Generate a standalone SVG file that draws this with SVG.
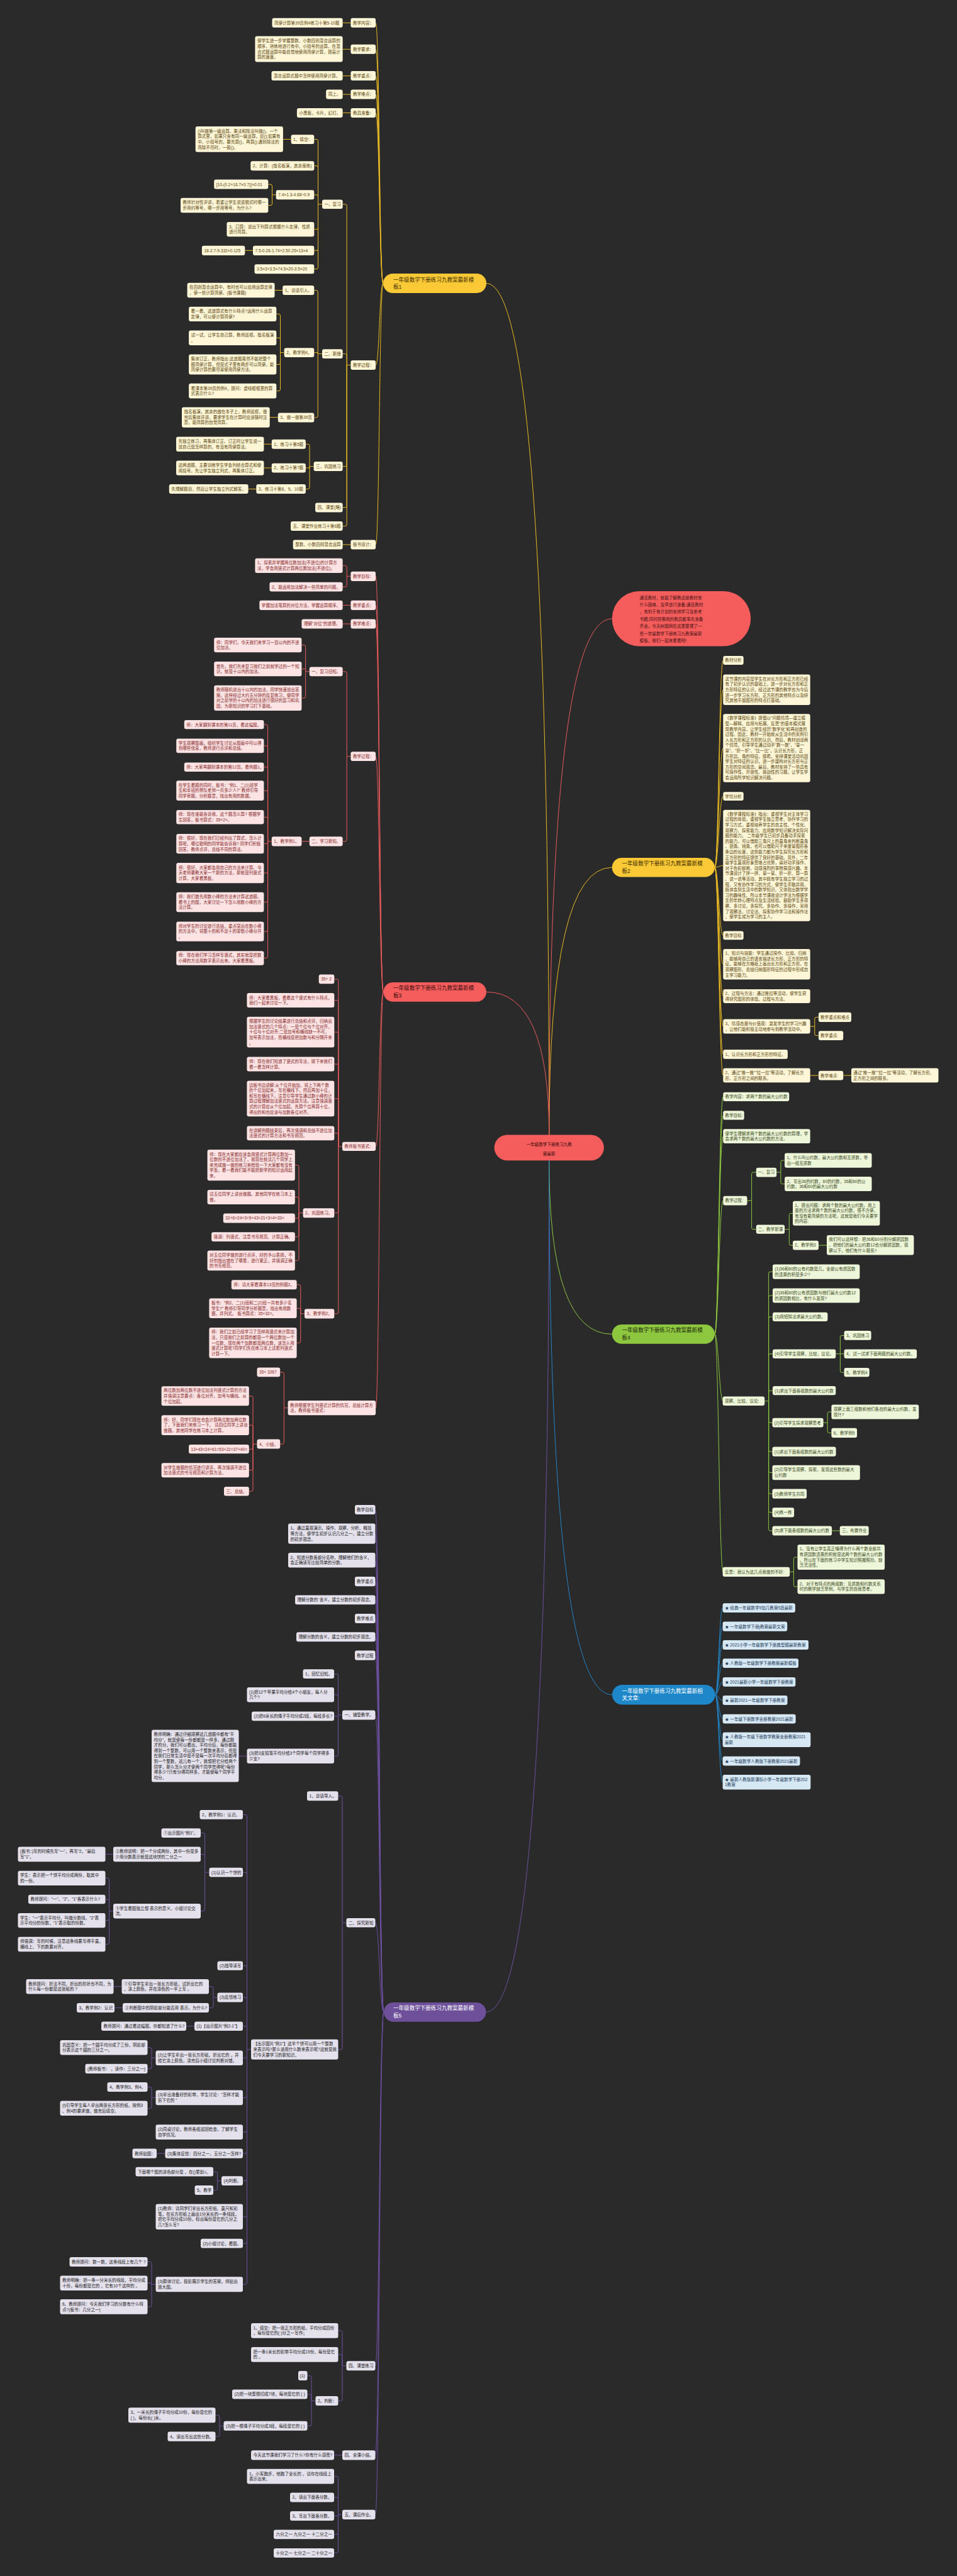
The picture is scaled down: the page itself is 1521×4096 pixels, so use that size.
<svg xmlns="http://www.w3.org/2000/svg" width="1521" height="4096" viewBox="0 0 1521 4096">
<style>
text{font-family:"Liberation Sans","Noto Sans CJK SC",sans-serif;font-size:6.6px}
.ry{fill:#fef6d6;rx:3px}.rr{fill:#fde3e3;rx:3px}.rp{fill:#e4e0ec;rx:3px}.rg{fill:#eef6da;rx:3px}.rb{fill:#d7e8f5;rx:3px}
.ty{fill:#5a4510}.tr{fill:#86282a}.tp{fill:#222}.tg{fill:#3b4a1c}.tb{fill:#1c3a58}
.big{font-size:8.55px}
.c{fill:none;stroke-width:1}
.cy{stroke:#e8b923}.cr{stroke:#e85a5a}.cp{stroke:#6c4f9e}.cg{stroke:#8cc63f}.cb{stroke:#2186c8}
</style>
<rect width="1521" height="4096" fill="#2a2a2a"/>
<g id="connectors">
<path class="c cy" d="M872.7 1804.5Q872.7 450.5 773 450.5M872.7 1804.5Q872.7 1379.2 972.7 1379.2"/>
<path class="c cr" d="M872.7 1804.5Q872.7 1577.3 773 1577.3M872.7 1804.5Q872.7 983.8 972.7 983.8"/>
<path class="c cp" d="M872.7 1845.3Q872.7 3199.3 772.5 3199.3"/>
<path class="c cg" d="M872.7 1845.3Q872.7 2121.4 972.7 2121.4"/>
<path class="c cb" d="M872.7 1845.3Q872.7 2694.8 973 2694.8"/>
<path class="c cy" d="M597.1 36.3C603 36.3 603 450.5 609 450.5M597.1 78.3C603 78.3 603 450.5 609 450.5M597.1 120.6C603 120.6 603 450.5 609 450.5M597.1 150C603 150 603 450.5 609 450.5M597.1 179.4C603 179.4 603 450.5 609 450.5M597.1 580.4C603 580.4 603 450.5 609 450.5M597.1 866C603 866 603 450.5 609 450.5
M544.6 36.3H557.4M544.6 78.3H557.4M544.6 120.6H557.4M544.6 150H557.4M544.6 179.4H557.4M544.6 866H557.4
M551.2 580.4H557.4M544.6 324.8H548.7Q551.2 324.8 551.2 327.3V580.4M544.6 562.6H548.7Q551.2 562.6 551.2 565.1V580.4M544.6 741.6H548.7Q551.2 741.6 551.2 739.1V580.4M544.6 807H548.7Q551.2 807 551.2 804.5V580.4M544.6 836.6H548.7Q551.2 836.6 551.2 834.1V580.4
M505.5 324.8H512M499.3 221.5H503Q505.5 221.5 505.5 224V324.8M499.3 263.7H503Q505.5 263.7 505.5 266.2V324.8M499.3 309.8H503Q505.5 309.8 505.5 312.3V324.8M499.3 364.6H503Q505.5 364.6 505.5 362.1V324.8M499.3 398.3H503Q505.5 398.3 505.5 395.8V324.8M499.3 427.8H503Q505.5 427.8 505.5 425.3V324.8
M449.9 221.5H462.6M432.5 309.8H438.7M426.3 293.1H430Q432.5 293.1 432.5 295.6V309.8M426.3 326.5H430Q432.5 326.5 432.5 324V309.8M389.3 398.3H402
M505.2 562.6H512M499.3 461.5H502.7Q505.2 461.5 505.2 464V562.6M499.3 560.6H505.2V562.6M499.3 663.9H502.7Q505.2 663.9 505.2 661.4V562.6M436.5 461.5H449.2
M445.5 560.6H451.7M439.3 499.3H443Q445.5 499.3 445.5 501.8V560.6M439.3 537.2H443Q445.5 537.2 445.5 539.7V560.6M439.3 579.5H443Q445.5 579.5 445.5 577V560.6M439.3 621.6H443Q445.5 621.6 445.5 619.1V560.6M428.7 663.6H441.8
M492 741.6H498.6M485.9 706.2H489.5Q492 706.2 492 708.7V741.6M485.9 744H492V741.6M485.9 777.6H489.5Q492 777.6 492 775.1V741.6M419.4 706.2H431.8M419.4 744H431.8M394.6 777.6H407.3"/>
<path class="c cr" d="M597.1 916.3C603 916.3 603 1577.3 609.3 1577.3M597.1 962.4C603 962.4 603 1577.3 609.3 1577.3M597.1 992C603 992 603 1577.3 609.3 1577.3M597.1 1202.7C603 1202.7 603 1577.3 609.3 1577.3M597.1 1822.9C603 1822.9 603 1577.3 609.3 1577.3M597.1 2238.7C603 2238.7 603 1577.3 609.3 1577.3
M551.2 916.3H557.4M544.6 899.4H548.7Q551.2 899.4 551.2 901.9V916.3M544.6 933.2H548.7Q551.2 933.2 551.2 930.7V916.3M544.6 962.4H557.4M544.6 992H557.4
M551.2 1202.7H557.4M544.6 1067.8H548.7Q551.2 1067.8 551.2 1070.3V1202.7M544.6 1337.8H548.7Q551.2 1337.8 551.2 1335.3V1202.7
M485.6 1067.8H491.8M479.4 1025.6H483.1Q485.6 1025.6 485.6 1028.1V1067.8M479.4 1063.6H485.6V1067.8M479.4 1109.9H483.1Q485.6 1109.9 485.6 1107.4V1067.8M479.4 1337.8H491.8
M425.6 1337.8H431.8M419.4 1152.1H423.1Q425.6 1152.1 425.6 1154.6V1337.8M419.4 1185.8H423.1Q425.6 1185.8 425.6 1188.3V1337.8M419.4 1219.6H423.1Q425.6 1219.6 425.6 1222.1V1337.8M419.4 1257.1H423.1Q425.6 1257.1 425.6 1259.6V1337.8M419.4 1299.3H423.1Q425.6 1299.3 425.6 1301.8V1337.8M419.4 1341.6H425.6V1337.8M419.4 1388.2H423.1Q425.6 1388.2 425.6 1385.7V1337.8M419.4 1434.5H423.1Q425.6 1434.5 425.6 1432V1337.8M419.4 1481.1H423.1Q425.6 1481.1 425.6 1478.6V1337.8M419.4 1523.4H423.1Q425.6 1523.4 425.6 1520.9V1337.8
M537.8 1822.9H544M531.3 1556.9H535.3Q537.8 1556.9 537.8 1559.4V1822.9M531.3 1590.5H535.3Q537.8 1590.5 537.8 1593V1822.9M531.3 1641.1H535.3Q537.8 1641.1 537.8 1643.6V1822.9M531.3 1692H535.3Q537.8 1692 537.8 1694.5V1822.9M531.3 1746.9H535.3Q537.8 1746.9 537.8 1749.4V1822.9M531.3 1801.8H535.3Q537.8 1801.8 537.8 1804.3V1822.9M531.3 1928.7H535.3Q537.8 1928.7 537.8 1926.2V1822.9M531.3 2088.9H535.3Q537.8 2088.9 537.8 2086.4V1822.9
M475 1928.7H481.6M468.8 1852.6H472.5Q475 1852.6 475 1855.1V1928.7M468.8 1903.4H472.5Q475 1903.4 475 1905.9V1928.7M468.8 1937H472.5Q475 1937 475 1934.5V1928.7M468.8 1966.6H472.5Q475 1966.6 475 1964.1V1928.7M468.8 2004.4H472.5Q475 2004.4 475 2001.9V1928.7
M477.8 2088.9H484M471.6 2042.7H475.3Q477.8 2042.7 477.8 2045.2V2088.9M471.6 2080.3H475.3Q477.8 2080.3 477.8 2082.8V2088.9M471.6 2135.3H475.3Q477.8 2135.3 477.8 2132.8V2088.9
M451.4 2238.7H457.6M445.2 2182H448.9Q451.4 2182 451.4 2184.5V2238.7M445.2 2296.1H448.9Q451.4 2296.1 451.4 2293.6V2238.7
M402 2296.1H408.5M395.8 2219.8H399.5Q402 2219.8 402 2222.3V2296.1M395.8 2266.2H399.5Q402 2266.2 402 2268.7V2296.1M395.8 2304.2H402V2296.1M395.8 2337.8H399.5Q402 2337.8 402 2335.3V2296.1M395.8 2371.3H399.5Q402 2371.3 402 2368.8V2296.1"/>
<path class="c cp" d="M596.5 2400.6C603 2400.6 603 3199.3 610 3199.3M596.5 2438.7C603 2438.7 603 3199.3 610 3199.3M596.5 2480.7C603 2480.7 603 3199.3 610 3199.3M596.5 2514.7C603 2514.7 603 3199.3 610 3199.3M596.5 2543.9C603 2543.9 603 3199.3 610 3199.3M596.5 2573.5C603 2573.5 603 3199.3 610 3199.3M596.5 2602.8C603 2602.8 603 3199.3 610 3199.3M596.5 2632.2C603 2632.2 603 3199.3 610 3199.3M596.5 2727C603 2727 603 3199.3 610 3199.3M596.5 3057.2C603 3057.2 603 3199.3 610 3199.3M596.5 3761.8C603 3761.8 603 3199.3 610 3199.3M596.5 3903.8C603 3903.8 603 3199.3 610 3199.3M596.5 3998.4C603 3998.4 603 3199.3 610 3199.3
M537.5 2727H544M531 2661.7H535Q537.5 2661.7 537.5 2664.2V2727M531 2694.7H535Q537.5 2694.7 537.5 2697.2V2727M531 2728.9H537.5V2727M531 2792.3H535Q537.5 2792.3 537.5 2789.8V2727M379.5 2792.3H392.5
M544 3057.2H550.5M537.5 2855.8H541.5Q544 2855.8 544 2858.3V3057.2M537.5 3258.8H541.5Q544 3258.8 544 3256.3V3057.2
M392.5 3258.8H399M386 2885.4H390Q392.5 2885.4 392.5 2887.9V3258.8M386 2977.2H390Q392.5 2977.2 392.5 2979.7V3258.8M386 3125.6H390Q392.5 3125.6 392.5 3128.1V3258.8M386 3176H390Q392.5 3176 392.5 3178.5V3258.8M386 3221.7H390Q392.5 3221.7 392.5 3224.2V3258.8M386 3272.2H390Q392.5 3272.2 392.5 3269.7V3258.8M386 3335.4H390Q392.5 3335.4 392.5 3332.9V3258.8M386 3390.1H390Q392.5 3390.1 392.5 3387.6V3258.8M386 3424.1H390Q392.5 3424.1 392.5 3421.6V3258.8M386 3467.7H390Q392.5 3467.7 392.5 3465.2V3258.8M386 3524.8H390Q392.5 3524.8 392.5 3522.3V3258.8M386 3567.2H390Q392.5 3567.2 392.5 3564.7V3258.8M386 3632.3H390Q392.5 3632.3 392.5 3629.8V3258.8
M325.5 2977.2H332.5M319 2914.7H323Q325.5 2914.7 325.5 2917.2V2977.2M319 2948.4H323Q325.5 2948.4 325.5 2950.9V2977.2M319 3038.7H323Q325.5 3038.7 325.5 3036.2V2977.2M167.5 2948.4H180
M173.5 3038.7H180M167.5 2986.3H171Q173.5 2986.3 173.5 2988.8V3038.7M167.5 3020H171Q173.5 3020 173.5 3022.5V3038.7M167.5 3053.7H171Q173.5 3053.7 173.5 3051.2V3038.7M167.5 3091.5H171Q173.5 3091.5 173.5 3089V3038.7
M339 3176H345.5M332 3158.7H336.5Q339 3158.7 339 3161.2V3176M332 3192.6H336.5Q339 3192.6 339 3190.1V3176M180.5 3158.7H193.5M182 3192.6H195M296 3221.7H309
M241 3272.2H247.5M234.5 3255.7H238.5Q241 3255.7 241 3258.2V3272.2M234.5 3289.3H238.5Q241 3289.3 241 3286.8V3272.2
M241 3335.4H247.5M234.5 3318.5H238.5Q241 3318.5 241 3321V3335.4M234.5 3352.4H238.5Q241 3352.4 241 3349.9V3335.4M249 3424.1H262.5
M345.5 3467.7H352M339 3453.2H343Q345.5 3453.2 345.5 3455.7V3467.7M339 3482.6H343Q345.5 3482.6 345.5 3480.1V3467.7
M241 3632.3H247.5M234.5 3596.5H238.5Q241 3596.5 241 3599V3632.3M234.5 3630.2H241V3632.3M234.5 3668H238.5Q241 3668 241 3665.5V3632.3
M544 3761.8H550.5M537.5 3705.9H541.5Q544 3705.9 544 3708.4V3761.8M537.5 3743.9H541.5Q544 3743.9 544 3746.4V3761.8M537.5 3817.6H541.5Q544 3817.6 544 3815.1V3761.8
M495 3817.6H501.5M488.5 3777.6H492.5Q495 3777.6 495 3780.1V3817.6M488.5 3807H492.5Q495 3807 495 3809.5V3817.6M488.5 3857.3H492.5Q495 3857.3 495 3854.8V3817.6
M349 3857.3H355.5M342.5 3840.3H346.5Q349 3840.3 349 3842.8V3857.3M342.5 3874.1H346.5Q349 3874.1 349 3871.6V3857.3M531 3903.8H544
M537.5 3998.4H544M531 3937.6H535Q537.5 3937.6 537.5 3940.1V3998.4M531 3971H535Q537.5 3971 537.5 3973.5V3998.4M531 4000.4H537.5V3998.4M531 4029.9H535Q537.5 4029.9 537.5 4027.4V3998.4M531 4059.3H535Q537.5 4059.3 537.5 4056.8V3998.4"/>
<path class="c cy" d="M1135.9 1379.2C1142 1379.2 1143 1050 1149.3 1050M1135.9 1379.2C1142 1379.2 1143 1096.7 1149.3 1096.7M1135.9 1379.2C1142 1379.2 1143 1189.5 1149.3 1189.5M1135.9 1379.2C1142 1379.2 1143 1266.2 1149.3 1266.2M1135.9 1379.2C1142 1379.2 1143 1376.3 1149.3 1376.3M1135.9 1379.2C1142 1379.2 1143 1487.4 1149.3 1487.4M1135.9 1379.2C1142 1379.2 1143 1533.2 1149.3 1533.2M1135.9 1379.2C1142 1379.2 1143 1584 1149.3 1584M1135.9 1379.2C1142 1379.2 1143 1632 1149.3 1632M1135.9 1379.2C1142 1379.2 1143 1676.5 1149.3 1676.5M1135.9 1379.2C1142 1379.2 1143 1710 1149.3 1710
M1287.7 1632H1294.8M1301 1617.4H1297.3Q1294.8 1617.4 1294.8 1619.9V1632M1301 1646.6H1297.3Q1294.8 1646.6 1294.8 1644.1V1632M1287.7 1710H1301M1340.2 1710H1353"/>
<path class="c cg" d="M1135.9 2121.4C1142 2121.4 1143 1744 1149.3 1744M1135.9 2121.4C1142 2121.4 1143 1773.5 1149.3 1773.5M1135.9 2121.4C1142 2121.4 1143 1806.7 1149.3 1806.7M1135.9 2121.4C1142 2121.4 1143 1909 1149.3 1909M1135.9 2121.4C1142 2121.4 1143 2227.8 1149.3 2227.8M1135.9 2121.4C1142 2121.4 1143 2499.4 1149.3 2499.4
M1187.5 1909H1194.6M1201.8 1864H1197.1Q1194.6 1864 1194.6 1866.5V1909M1201.8 1954.7H1197.1Q1194.6 1954.7 1194.6 1952.2V1909
M1234.2 1864H1240.9M1247.1 1845.1H1243.4Q1240.9 1845.1 1240.9 1847.6V1864M1247.1 1882.6H1243.4Q1240.9 1882.6 1240.9 1880.1V1864
M1247.1 1954.7H1254.3M1260 1929.3H1256.8Q1254.3 1929.3 1254.3 1931.8V1954.7M1260 1980.1H1256.8Q1254.3 1980.1 1254.3 1977.6V1954.7M1301 1980.1H1314
M1215.2 2227.8H1221.6M1228 2022.2H1224.1Q1221.6 2022.2 1221.6 2024.7V2227.8M1228 2060H1224.1Q1221.6 2060 1221.6 2062.5V2227.8M1228 2093.9H1224.1Q1221.6 2093.9 1221.6 2096.4V2227.8M1228 2152.7H1224.1Q1221.6 2152.7 1221.6 2155.2V2227.8M1228 2211.2H1224.1Q1221.6 2211.2 1221.6 2213.7V2227.8M1228 2262.1H1224.1Q1221.6 2262.1 1221.6 2259.6V2227.8M1228 2308.1H1224.1Q1221.6 2308.1 1221.6 2305.6V2227.8M1228 2341.5H1224.1Q1221.6 2341.5 1221.6 2339V2227.8M1228 2375.2H1224.1Q1221.6 2375.2 1221.6 2372.7V2227.8M1228 2404.8H1224.1Q1221.6 2404.8 1221.6 2402.3V2227.8M1228 2434H1224.1Q1221.6 2434 1221.6 2431.5V2227.8
M1328.3 2152.7H1341.6M1341.6 2123.5H1337.9Q1335.4 2123.5 1335.4 2126V2179.7Q1335.4 2182.2 1337.9 2182.2H1341.6
M1308.6 2262.1H1315.2M1321.4 2245H1317.7Q1315.2 2245 1315.2 2247.5V2262.1M1321.4 2278.4H1317.7Q1315.2 2278.4 1315.2 2275.9V2262.1M1322.1 2434H1334.8
M1255.2 2499.4H1261.4M1267.5 2476.1H1263.9Q1261.4 2476.1 1261.4 2478.6V2499.4M1267.5 2522.9H1263.9Q1261.4 2522.9 1261.4 2520.4V2499.4"/>
<path class="c cb" d="M1136.6 2694.8C1142 2694.8 1143 2556.6 1148.6 2556.6M1136.6 2694.8C1142 2694.8 1143 2586 1148.6 2586M1136.6 2694.8C1142 2694.8 1143 2615.5 1148.6 2615.5M1136.6 2694.8C1142 2694.8 1143 2644.7 1148.6 2644.7M1136.6 2694.8C1142 2694.8 1143 2674.3 1148.6 2674.3M1136.6 2694.8C1142 2694.8 1143 2703.5 1148.6 2703.5M1136.6 2694.8C1142 2694.8 1143 2733.1 1148.6 2733.1M1136.6 2694.8C1142 2694.8 1143 2766.3 1148.6 2766.3M1136.6 2694.8C1142 2694.8 1143 2800.2 1148.6 2800.2M1136.6 2694.8C1142 2694.8 1143 2833.8 1148.6 2833.8"/>
</g>
<g id="center"><rect x="785.6" y="1804.5" width="174.2" height="40.8" rx="20.4" fill="#f55c5c"/><text fill="#3a0d0d" font-size="11.4" text-anchor="middle"><tspan x="872.7" y="1821.9">一年级数学下册练习九教</tspan><tspan x="872.7" y="1836.6">案最新</tspan></text></g>
<g id="intro"><rect x="972.7" y="940" width="220.5" height="87.5" rx="43.75" fill="#f55c5c"/><text fill="#4a1515" font-size="8.5"><tspan x="1016.6" y="952.7">通览教材，就能了解教这册教材有</tspan><tspan x="1016.6" y="964.1">什么困难，及早进行准备;通览教材</tspan><tspan x="1016.6" y="975.4">，有利于有计划的安排学习及参考</tspan><tspan x="1016.6" y="986.8">书籍;同时把需用的教具都事先准备</tspan><tspan x="1016.6" y="998.1">齐全。今天树图网在这里整理了一</tspan><tspan x="1016.6" y="1009.5">些一年级数学下册练习九教案最新</tspan><tspan x="1016.6" y="1020.8">模板，我们一起来看看吧!</tspan></text></g>
<g id="b1"><rect x="609" y="435" width="164" height="31" rx="15.5" fill="#fbc936"/><text class="big" fill="#3b2c00"><tspan x="625" y="448">一年级数学下册练习九教案最新模</tspan><tspan x="625" y="459.2">板1</tspan></text></g>
<g id="b1-l1"><rect class="ry" x="557.4" y="28.8" width="39.7" height="15"/><text class="ty" x="560.9" y="38.7">教学内容：</text></g>
<g id="b1-l2"><rect class="ry" x="557.4" y="70.8" width="39.7" height="15"/><text class="ty" x="560.9" y="80.7">教学要求：</text></g>
<g id="b1-l3"><rect class="ry" x="557.4" y="113.1" width="39.7" height="15"/><text class="ty" x="560.9" y="123">教学重点：</text></g>
<g id="b1-l4"><rect class="ry" x="557.4" y="142.5" width="39.7" height="15"/><text class="ty" x="560.9" y="152.4">教学难点：</text></g>
<g id="b1-l5"><rect class="ry" x="557.4" y="171.9" width="39.7" height="15"/><text class="ty" x="560.9" y="181.8">教具准备：</text></g>
<g id="b1-l6"><rect class="ry" x="557.4" y="572.9" width="39.7" height="15"/><text class="ty" x="560.9" y="582.8">教学过程：</text></g>
<g id="b1-l7"><rect class="ry" x="557.4" y="858.5" width="39.7" height="15"/><text class="ty" x="560.9" y="868.4">板书设计：</text></g>
<g id="b1-a"><rect class="ry" x="432.5" y="28.8" width="112.1" height="15"/><text class="ty" x="436" y="38.7">简便计算第39页例4练习十第5-10题</text></g>
<g id="b1-b"><rect class="ry" x="405.4" y="57.6" width="139.2" height="40.9"/><text class="ty"><tspan x="408.9" y="67.4">使学生进一步掌握整数、小数四则混合运算的</tspan><tspan x="408.9" y="76">顺序，熟练地进行有中、小括号的运算，在混</tspan><tspan x="408.9" y="84.6">合式题运算中能自觉地使用简便计算，提高计</tspan><tspan x="408.9" y="93.2">算的速度。</tspan></text></g>
<g id="b1-c"><rect class="ry" x="431.5" y="113.1" width="113.1" height="15"/><text class="ty" x="435" y="123">混合运算式题中怎样使用简便计算。</text></g>
<g id="b1-d"><rect class="ry" x="518.2" y="142.5" width="26.4" height="15"/><text class="ty" x="521.7" y="152.4">同上。</text></g>
<g id="b1-e"><rect class="ry" x="471.9" y="171.9" width="72.7" height="15"/><text class="ty" x="475.4" y="181.8">小黑板，卡片，幻灯。</text></g>
<g id="b1-f"><rect class="ry" x="465.7" y="858.5" width="78.9" height="15"/><text class="ty" x="469.2" y="868.4">整数、小数四则混合运算</text></g>
<g id="b1-p1"><rect class="ry" x="512" y="317.6" width="32.6" height="14.4"/><text class="ty" x="515.5" y="327.2">一、复习</text></g>
<g id="b1-p2"><rect class="ry" x="512" y="555.3" width="32.6" height="14.7"/><text class="ty" x="515.5" y="565.1">二、新授</text></g>
<g id="b1-p3"><rect class="ry" x="498.6" y="734.1" width="46" height="15"/><text class="ty" x="502.1" y="744">三、巩固练习</text></g>
<g id="b1-p4"><rect class="ry" x="501.1" y="799.5" width="43.5" height="15"/><text class="ty" x="504.6" y="809.4">四、课堂(略)</text></g>
<g id="b1-p5"><rect class="ry" x="462" y="829.1" width="82.6" height="15"/><text class="ty" x="465.5" y="839">五、课堂作业练习十第6题</text></g>
<g id="b1-r1"><rect class="ry" x="462.6" y="214.2" width="36.7" height="14.7"/><text class="ty" x="466.1" y="223.9">1、填空：</text></g>
<g id="b1-r1a"><rect class="ry" x="310.7" y="201" width="139.2" height="40.8"/><text class="ty"><tspan x="314.2" y="210.7">()叫做第一级运算。乘法和除法叫做()。一个</tspan><tspan x="314.2" y="219.3">算式里，如果只含有同一级运算，应();如果有</tspan><tspan x="314.2" y="227.9">中、小括号的，要先算()，再算();遇到除法的</tspan><tspan x="314.2" y="236.5">商除不尽时，一般()。</tspan></text></g>
<g id="b1-r2"><rect class="ry" x="398.3" y="256.2" width="101" height="15"/><text class="ty" x="401.8" y="266.1">2、计算：(指名板演，其余座练)</text></g>
<g id="b1-r3"><rect class="ry" x="438.7" y="302.3" width="60.6" height="15"/><text class="ty" x="442.2" y="312.2">7.4×1.3-4.68÷0.9</text></g>
<g id="b1-r3a"><rect class="ry" x="340.2" y="285.6" width="86.1" height="15"/><text class="ty" x="343.7" y="295.5">[10-(0.2+16.7×0.7)]×0.01</text></g>
<g id="b1-r3b"><rect class="ry" x="287" y="314.7" width="139.3" height="23.6"/><text class="ty"><tspan x="290.5" y="324.4">教师针对性评讲，着重让学生说说脱式时哪一</tspan><tspan x="290.5" y="333">步用约等号，哪一步用等号，为什么?</tspan></text></g>
<g id="b1-r4"><rect class="ry" x="360.4" y="353" width="138.9" height="23.3"/><text class="ty"><tspan x="363.9" y="362.6">3、口算：说出下列算式根据什么定律，性质</tspan><tspan x="363.9" y="371.2">进行简算。</tspan></text></g>
<g id="b1-r5"><rect class="ry" x="402" y="390.7" width="97.3" height="15.2"/><text class="ty" x="405.5" y="400.7">7.5-0.26-1.74+2.50.25×13×4</text></g>
<g id="b1-r5a"><rect class="ry" x="320.9" y="390.7" width="68.4" height="15.2"/><text class="ty" x="324.4" y="400.7">18-2.7-9.332×0.125</text></g>
<g id="b1-r6"><rect class="ry" x="404.5" y="420.3" width="94.8" height="15"/><text class="ty" x="408" y="430.2">3.5×3+3.5×74.5×20-3.5×20</text></g>
<g id="b1-s1"><rect class="ry" x="449.2" y="454" width="50.1" height="15"/><text class="ty" x="452.7" y="463.9">1、谈话引入。</text></g>
<g id="b1-s1a"><rect class="ry" x="297.6" y="449.7" width="138.9" height="23.6"/><text class="ty"><tspan x="301.1" y="459.4">在四则混合运算中，有时也可以应用运算定律</tspan><tspan x="301.1" y="468">，使一些计算简便。(板书课题)</tspan></text></g>
<g id="b1-s2"><rect class="ry" x="451.7" y="553.3" width="47.6" height="14.7"/><text class="ty" x="455.2" y="563">2、教学例4。</text></g>
<g id="b1-s2a"><rect class="ry" x="300.1" y="487.7" width="139.2" height="23.3"/><text class="ty"><tspan x="303.6" y="497.3">看一看，这道算式有什么特点?运用什么运算</tspan><tspan x="303.6" y="505.9">定律，可以使计算简便?</tspan></text></g>
<g id="b1-s2b"><rect class="ry" x="300.1" y="525.4" width="139.2" height="23.6"/><text class="ty"><tspan x="303.6" y="535.1">试一试，让学生自己算，教师巡视。指名板演</tspan><tspan x="303.6" y="543.7">。</tspan></text></g>
<g id="b1-s2c"><rect class="ry" x="300.1" y="563.4" width="139.2" height="32.2"/><text class="ty"><tspan x="303.6" y="573.1">集体订正，教师指出:这道题虽然不能把整个</tspan><tspan x="303.6" y="581.7">题简便计算，但是式子里有两步可以简便，能</tspan><tspan x="303.6" y="590.3">简便计算的要尽量使用简便方法。</tspan></text></g>
<g id="b1-s2d"><rect class="ry" x="300.1" y="609.8" width="139.2" height="23.6"/><text class="ty"><tspan x="303.6" y="619.5">看课本第39页的例4，提问：虚线框框里的算</tspan><tspan x="303.6" y="628.1">式表示什么?</tspan></text></g>
<g id="b1-s3"><rect class="ry" x="441.8" y="656.4" width="57.5" height="15"/><text class="ty" x="445.3" y="666.3">3、做一做第39页</text></g>
<g id="b1-s3a"><rect class="ry" x="289" y="647.5" width="139.7" height="32.2"/><text class="ty"><tspan x="292.5" y="657.2">指名板演，其余的做在本子上，教师巡视，做</tspan><tspan x="292.5" y="665.8">完后集体评讲。要求学生在计算时应该随时注</tspan><tspan x="292.5" y="674.4">意，能简算的自觉简算。</tspan></text></g>
<g id="b1-t1"><rect class="ry" x="431.8" y="698.7" width="54.1" height="15"/><text class="ty" x="435.3" y="708.6">1、练习十第5题</text></g>
<g id="b1-t1a"><rect class="ry" x="280" y="694.4" width="139.4" height="23.6"/><text class="ty"><tspan x="283.5" y="704.1">先独立练习，再集体订正。订正时让学生说一</tspan><tspan x="283.5" y="712.7">说自己是怎样算的，有没有简便算法。</tspan></text></g>
<g id="b1-t2"><rect class="ry" x="431.8" y="736.7" width="54.1" height="14.7"/><text class="ty" x="435.3" y="746.4">2、练习十第7题</text></g>
<g id="b1-t2a"><rect class="ry" x="280" y="732.4" width="139.4" height="23.3"/><text class="ty"><tspan x="283.5" y="742">这两道题，主要训练学生学会列综合算式和使</tspan><tspan x="283.5" y="750.6">用括号。先让学生独立列式，再集体订正。</tspan></text></g>
<g id="b1-t3"><rect class="ry" x="407.3" y="770.1" width="78.6" height="15"/><text class="ty" x="410.8" y="780">3、练习十第8、9、10题</text></g>
<g id="b1-t3a"><rect class="ry" x="268.8" y="770.1" width="125.8" height="15"/><text class="ty" x="272.3" y="780">先理解题目，然后让学生独立列式解答。</text></g>
<g id="b3"><rect x="609.3" y="1562" width="163.7" height="30.7" rx="15.35" fill="#f55c5c"/><text class="big" fill="#3a0d0d"><tspan x="625" y="1574.4">一年级数学下册练习九教案最新模</tspan><tspan x="625" y="1585.6">板3</tspan></text></g>
<g id="b3-l1"><rect class="rr" x="557.4" y="908.7" width="39.7" height="15.2"/><text class="tr" x="560.9" y="918.7">教学目标：</text></g>
<g id="b3-l2"><rect class="rr" x="557.4" y="954.8" width="39.7" height="15.1"/><text class="tr" x="560.9" y="964.8">教学重点：</text></g>
<g id="b3-l3"><rect class="rr" x="557.4" y="984.4" width="39.7" height="15.1"/><text class="tr" x="560.9" y="994.4">教学难点：</text></g>
<g id="b3-l4"><rect class="rr" x="557.4" y="1195.3" width="39.7" height="14.8"/><text class="tr" x="560.9" y="1205.1">教学过程：</text></g>
<g id="b3-l5"><rect class="rr" x="544" y="1815.8" width="53.1" height="14.2"/><text class="tr" x="547.5" y="1825.3">教师板书竖式：</text></g>
<g id="b3-l6"><rect class="rr" x="457.6" y="2227" width="139.5" height="23.3"/><text class="tr"><tspan x="461.1" y="2236.6">教师根据学生列竖式计算的情况，总结计算方</tspan><tspan x="461.1" y="2245.2">法，教师板书竖式：</tspan></text></g>
<g id="b3-a1"><rect class="rr" x="405.4" y="887.8" width="139.2" height="23.2"/><text class="tr"><tspan x="408.9" y="897.3">1、探索并掌握两位数加法(不进位)的计算方</tspan><tspan x="408.9" y="905.9">法，学会用竖式计算两位数加法(不进位)。</tspan></text></g>
<g id="b3-a2"><rect class="rr" x="428.4" y="925.8" width="116.2" height="14.8"/><text class="tr" x="431.9" y="935.6">2、能运用加法解决一些简单的问题。</text></g>
<g id="b3-b"><rect class="rr" x="412.3" y="954.8" width="132.3" height="15.1"/><text class="tr" x="415.8" y="964.8">掌握加法笔算的对位方法，掌握运算顺序。</text></g>
<g id="b3-c"><rect class="rr" x="479.4" y="984.4" width="65.2" height="15.1"/><text class="tr" x="482.9" y="994.4">理解"对位"的道理。</text></g>
<g id="b3-p1"><rect class="rr" x="491.8" y="1060.4" width="52.8" height="14.8"/><text class="tr" x="495.3" y="1070.2">一、复习旧知。</text></g>
<g id="b3-p1a"><rect class="rr" x="340.2" y="1014" width="139.2" height="23.2"/><text class="tr"><tspan x="343.7" y="1023.5">师：同学们，今天我们来学习一百以内的不进</tspan><tspan x="343.7" y="1032.1">位加法。</tspan></text></g>
<g id="b3-p1b"><rect class="rr" x="340.2" y="1052" width="139.2" height="23.2"/><text class="tr"><tspan x="343.7" y="1061.5">首先，我们先来复习我们之前就学过的一个知</tspan><tspan x="343.7" y="1070.1">识，就是十以内的加法。</tspan></text></g>
<g id="b3-p1c"><rect class="rr" x="340.2" y="1089.7" width="139.2" height="40.3"/><text class="tr"><tspan x="343.7" y="1099.2">教师随机说出十以内的加法，同学快速说出答</tspan><tspan x="343.7" y="1107.8">案。这样经过大约五分钟的反复练习，使同学</tspan><tspan x="343.7" y="1116.4">对之前学的十以内的加法进行很好的复习和巩</tspan><tspan x="343.7" y="1125">固，为新知识的学习打下基础。</tspan></text></g>
<g id="b3-p2"><rect class="rr" x="491.8" y="1330.2" width="52.8" height="15.2"/><text class="tr" x="495.3" y="1340.2">二、学习新知。</text></g>
<g id="b3-p2a"><rect class="rr" x="431.8" y="1330.2" width="47.6" height="15.2"/><text class="tr" x="435.3" y="1340.2">1、教学例1。</text></g>
<g id="b3-e1"><rect class="rr" x="292.8" y="1145" width="126.6" height="14.2"/><text class="tr" x="296.3" y="1154.5">师：大家翻到课本的第11页，看这幅图。</text></g>
<g id="b3-e2"><rect class="rr" x="280.2" y="1174.4" width="139.2" height="22.8"/><text class="tr"><tspan x="283.7" y="1183.7">学生观察图画，组织学生讨论从图画中可以得</tspan><tspan x="283.7" y="1192.3">到哪些信息，教师进行点评和总结。</tspan></text></g>
<g id="b3-e3"><rect class="rr" x="292.8" y="1212.4" width="126.6" height="14.5"/><text class="tr" x="296.3" y="1222">师：大家再翻到课本的第12页，看例题1。</text></g>
<g id="b3-e4"><rect class="rr" x="280.2" y="1241.3" width="139.2" height="31.6"/><text class="tr"><tspan x="283.7" y="1250.7">在学生看题的同时，板书："例1、二(1)班学</tspan><tspan x="283.7" y="1259.3">生和本班的带队老师一共多少人?" 教师引导</tspan><tspan x="283.7" y="1267.9">同学审题，分析题意，找出有用的数据。</tspan></text></g>
<g id="b3-e5"><rect class="rr" x="280.2" y="1288" width="139.2" height="22.6"/><text class="tr"><tspan x="283.7" y="1297.2">师：现在谁能告诉我，这个题怎么算? 根据学</tspan><tspan x="283.7" y="1305.8">生回答，板书算式：35+2=。</tspan></text></g>
<g id="b3-e6"><rect class="rr" x="280.2" y="1326" width="139.2" height="31.3"/><text class="tr"><tspan x="283.7" y="1335.3">师：很好，现在我们已经列出了算式，怎么计</tspan><tspan x="283.7" y="1343.9">算呢，哪位聪明的同学能告诉我? 同学们积极</tspan><tspan x="283.7" y="1352.5">回答，教师点评，总结不同的算法。</tspan></text></g>
<g id="b3-e7"><rect class="rr" x="280.2" y="1372.1" width="139.2" height="32.2"/><text class="tr"><tspan x="283.7" y="1381.8">师：很好，大家都会用自己的方法来计算。今</tspan><tspan x="283.7" y="1390.4">天老师要教大家一个新的方法，那就是列竖式</tspan><tspan x="283.7" y="1399">计算，大家看黑板。</tspan></text></g>
<g id="b3-e8"><rect class="rr" x="280.2" y="1418.8" width="139.2" height="31.5"/><text class="tr"><tspan x="283.7" y="1428.2">师：我们首先用数小棒的方法来计算这道题。</tspan><tspan x="283.7" y="1436.8">看书上的图，大家讨论一下怎么用数小棒的方</tspan><tspan x="283.7" y="1445.4">法计算。</tspan></text></g>
<g id="b3-e9"><rect class="rr" x="280.2" y="1465.5" width="139.2" height="31.2"/><text class="tr"><tspan x="283.7" y="1474.7">师对学生的讨论进行总结，重点突出在数小棒</tspan><tspan x="283.7" y="1483.3">的方法中，将整十的和不足十的零散小棒分开</tspan><tspan x="283.7" y="1491.9">。</tspan></text></g>
<g id="b3-e10"><rect class="rr" x="280.2" y="1512.2" width="139.2" height="22.5"/><text class="tr"><tspan x="283.7" y="1521.4">师：现在我们学习怎样写竖式，其实就是把数</tspan><tspan x="283.7" y="1530">小棒的方法用数字表示出来。大家看黑板。</tspan></text></g>
<g id="b3-f0"><rect class="rr" x="506.7" y="1549.5" width="24.6" height="14.8"/><text class="tr" x="510.2" y="1559.3">35+ 2</text></g>
<g id="b3-f1"><rect class="rr" x="392.4" y="1579.1" width="138.9" height="22.9"/><text class="tr"><tspan x="395.9" y="1588.5">师：大家看黑板，看看这个竖式有什么特点。</tspan><tspan x="395.9" y="1597.1">我们一起来讨论一下。</tspan></text></g>
<g id="b3-f2"><rect class="rr" x="392.4" y="1616.8" width="138.9" height="48.6"/><text class="tr"><tspan x="395.9" y="1626.1">根据学生的讨论结果进行总结和点评，归纳出</tspan><tspan x="395.9" y="1634.7">加法竖式的几个特点：一是个位与个位对齐，</tspan><tspan x="395.9" y="1643.3">十位与十位对齐;二是加号和横线缺一不可，</tspan><tspan x="395.9" y="1651.9">加号表示加法，而横线是把加数与和分隔开来</tspan><tspan x="395.9" y="1660.5">。</tspan></text></g>
<g id="b3-f3"><rect class="rr" x="392.4" y="1680.6" width="138.9" height="22.8"/><text class="tr"><tspan x="395.9" y="1689.9">师：现在我们知道了竖式的写法，接下来我们</tspan><tspan x="395.9" y="1698.5">看一看怎样计算。</tspan></text></g>
<g id="b3-f4"><rect class="rr" x="392.4" y="1718.6" width="138.9" height="56.6"/><text class="tr"><tspan x="395.9" y="1727.6">边板书边讲解:从个位开始加，将上下两个数</tspan><tspan x="395.9" y="1736.2">的个位加起来，写在横线下，然后再加十位，</tspan><tspan x="395.9" y="1744.8">和写在横线下。注意引导学生通过数小棒的计</tspan><tspan x="395.9" y="1753.4">算过程理解加法竖式的运算方法。注意强调竖</tspan><tspan x="395.9" y="1762">式的计算应从个位加起，先算个位再算十位，</tspan><tspan x="395.9" y="1770.6">得出的和也应该与加数各位对齐。</tspan></text></g>
<g id="b3-f5"><rect class="rr" x="392.4" y="1790.4" width="138.9" height="22.8"/><text class="tr"><tspan x="395.9" y="1799.7">在讲解例题结束后，再次强调和总结不进位加</tspan><tspan x="395.9" y="1808.3">法竖式的计算方法和书写规范。</tspan></text></g>
<g id="b3-g"><rect class="rr" x="481.6" y="1921.2" width="49.7" height="15"/><text class="tr" x="485.1" y="1931.1">2、巩固练习。</text></g>
<g id="b3-g1"><rect class="rr" x="329.6" y="1828" width="139.2" height="49.2"/><text class="tr"><tspan x="333.1" y="1837.6">师：现在大家都应该会用竖式计算两位数加一</tspan><tspan x="333.1" y="1846.2">位数的不进位加法了，我现在就请几个同学上</tspan><tspan x="333.1" y="1854.8">来完成做一做的练习来检验一下大家都有没有</tspan><tspan x="333.1" y="1863.4">学会，看一看我们能不能把新学的知识运用起</tspan><tspan x="333.1" y="1872">来。</tspan></text></g>
<g id="b3-g2"><rect class="rr" x="329.6" y="1891.9" width="139.2" height="23"/><text class="tr"><tspan x="333.1" y="1901.3">请五位同学上讲台做题。其他同学在练习本上</tspan><tspan x="333.1" y="1909.9">做。</tspan></text></g>
<g id="b3-g3"><rect class="rr" x="354.8" y="1929.5" width="114" height="15"/><text class="tr" x="358.3" y="1939.4">32+6=24+3=5+43=21+3=4+33=</text></g>
<g id="b3-g4"><rect class="rr" x="336.1" y="1959.2" width="132.7" height="14.7"/><text class="tr" x="339.6" y="1968.9">强调：列竖式、注意书写规范、计算正确。</text></g>
<g id="b3-g5"><rect class="rr" x="329.6" y="1988.6" width="139.2" height="31.6"/><text class="tr"><tspan x="333.1" y="1998">对五位同学做的进行点评，好的予以表扬，不</tspan><tspan x="333.1" y="2006.6">好的指出错在了哪里，进行更正，并强调正确</tspan><tspan x="333.1" y="2015.2">的书写规范。</tspan></text></g>
<g id="b3-h"><rect class="rr" x="484" y="2081.2" width="47.3" height="15.4"/><text class="tr" x="487.5" y="2091.3">3、教学例2。</text></g>
<g id="b3-h1"><rect class="rr" x="367.8" y="2035.2" width="103.8" height="15"/><text class="tr" x="371.3" y="2045.1">师：请大家看课本13页的例题2。</text></g>
<g id="b3-h2"><rect class="rr" x="332.4" y="2064.6" width="139.2" height="31.3"/><text class="tr"><tspan x="335.9" y="2073.9">板书："例2、二(1)班和二(2)班一共有多少名</tspan><tspan x="335.9" y="2082.5">学生?" 教师引导同学分析题意，找出有用数</tspan><tspan x="335.9" y="2091.1">据，并列式。 板书算式：35+32=。</tspan></text></g>
<g id="b3-h3"><rect class="rr" x="332.4" y="2110.9" width="139.2" height="48.7"/><text class="tr"><tspan x="335.9" y="2120.3">师：我们之前已经学习了怎样用竖式来计算加</tspan><tspan x="335.9" y="2128.9">法，只是我们之前算的都是一个两位数加一个</tspan><tspan x="335.9" y="2137.5">一位数，现在两个加数都是两位数，该怎么用</tspan><tspan x="335.9" y="2146.1">竖式计算呢?同学们先在练习本上试着列竖式</tspan><tspan x="335.9" y="2154.7">计算一下。</tspan></text></g>
<g id="b3-i1"><rect class="rr" x="408.5" y="2174.6" width="36.7" height="14.7"/><text class="tr" x="412" y="2184.3">35+ 3267</text></g>
<g id="b3-i2"><rect class="rr" x="408.5" y="2288.6" width="36.7" height="15"/><text class="tr" x="412" y="2298.5">4、小结。</text></g>
<g id="b3-j1"><rect class="rr" x="256.6" y="2204.3" width="139.2" height="31"/><text class="tr"><tspan x="260.1" y="2213.4">两位数加两位数不进位加法列竖式计算的方法</tspan><tspan x="260.1" y="2222">并强调注意要点：各位对齐、加号与横线、从</tspan><tspan x="260.1" y="2230.6">个位加起。</tspan></text></g>
<g id="b3-j2"><rect class="rr" x="256.6" y="2250.3" width="139.2" height="31.7"/><text class="tr"><tspan x="260.1" y="2259.8">师：好，同学们现在也会计算两位数加两位数</tspan><tspan x="260.1" y="2268.4">了，下面我们来练习一下。 请四位同学上讲台</tspan><tspan x="260.1" y="2277">做题。其他同学在练习本上计算。</tspan></text></g>
<g id="b3-j3"><rect class="rr" x="300" y="2297" width="95.8" height="14.3"/><text class="tr" x="303.5" y="2306.6">13+43=24+61=53+22=37+40=</text></g>
<g id="b3-j4"><rect class="rr" x="256.6" y="2326.3" width="139.2" height="23"/><text class="tr"><tspan x="260.1" y="2335.7">对学生做题的情况进行讲评。再次强调不进位</tspan><tspan x="260.1" y="2344.3">加法竖式的书写规范和计算方法。</tspan></text></g>
<g id="b3-j5"><rect class="rr" x="356" y="2364" width="39.8" height="14.6"/><text class="tr" x="359.5" y="2373.7">三、总结。</text></g>
<g id="b5"><rect x="610" y="3184" width="162.5" height="30.7" rx="15.35" fill="#6d4f9a"/><text class="big" fill="#ffffff"><tspan x="625" y="3196.4">一年级数学下册练习九教案最新模</tspan><tspan x="625" y="3207.6">板5</tspan></text></g>
<g id="b5-1"><rect class="rp" x="564" y="2393.1" width="32.5" height="14.9"/><text class="tp" x="567" y="2402.9">教学目标</text></g>
<g id="b5-2"><rect class="rp" x="458" y="2422.5" width="138.5" height="32.3"/><text class="tp"><tspan x="461.5" y="2432.3">1。通过直观演示、操作、观察、分析、概括</tspan><tspan x="461.5" y="2440.9">等方法，使学生初步认识几分之一，建立分数</tspan><tspan x="461.5" y="2449.5">的初步观念。</tspan></text></g>
<g id="b5-3"><rect class="rp" x="458" y="2468.9" width="138.5" height="23.5"/><text class="tp"><tspan x="461.5" y="2478.6">2。知道分数各部分名称，理解他们的含义，</tspan><tspan x="461.5" y="2487.2">会正确读写比较简单的分数。</tspan></text></g>
<g id="b5-4"><rect class="rp" x="564" y="2507.1" width="32.5" height="15.2"/><text class="tp" x="567" y="2517.1">教学重点</text></g>
<g id="b5-5"><rect class="rp" x="469" y="2536.4" width="127.5" height="14.9"/><text class="tp" x="472.5" y="2546.2">理解分数的`含义，建立分数的初步观念。</text></g>
<g id="b5-6"><rect class="rp" x="564" y="2566" width="32.5" height="14.9"/><text class="tp" x="567" y="2575.9">教学难点</text></g>
<g id="b5-7"><rect class="rp" x="471" y="2595.3" width="125.5" height="14.9"/><text class="tp" x="474.5" y="2605.1">理解分数的含义，建立分数的初步观念。</text></g>
<g id="b5-8"><rect class="rp" x="564" y="2624.6" width="32.5" height="15.2"/><text class="tp" x="567" y="2634.6">教学过程</text></g>
<g id="b5-9"><rect class="rp" x="544" y="2719.4" width="52.5" height="15.2"/><text class="tp" x="547.5" y="2729.4">一、铺垫教学。</text></g>
<g id="b5-10"><rect class="rp" x="550.5" y="3049.9" width="46" height="14.6"/><text class="tp" x="554" y="3059.6">二、探究新知</text></g>
<g id="b5-11"><rect class="rp" x="550.5" y="3754.3" width="46" height="14.9"/><text class="tp" x="554" y="3764.2">四、课堂练习</text></g>
<g id="b5-12"><rect class="rp" x="544" y="3896.2" width="52.5" height="15.2"/><text class="tp" x="547.5" y="3906.2">四、全课小结。</text></g>
<g id="b5-13"><rect class="rp" x="544" y="3990.8" width="52.5" height="15.1"/><text class="tp" x="547.5" y="4000.8">五、课后作业。</text></g>
<g id="b5-9a"><rect class="rp" x="481.5" y="2654.2" width="49.5" height="14.9"/><text class="tp" x="485" y="2664">1，回忆旧知。</text></g>
<g id="b5-9b"><rect class="rp" x="392.5" y="2682.9" width="138.5" height="23.5"/><text class="tp"><tspan x="396" y="2692.6">(1)把12个苹果平均分给4个小朋友，每人分</tspan><tspan x="396" y="2701.2">几个?</tspan></text></g>
<g id="b5-9c"><rect class="rp" x="400" y="2721.4" width="131" height="14.9"/><text class="tp" x="403.5" y="2731.2">(2)把6米长的绳子平均分成2段，每段多长?</text></g>
<g id="b5-9d"><rect class="rp" x="392.5" y="2780.5" width="138.5" height="23.5"/><text class="tp"><tspan x="396" y="2790.2">(3)把3支铅笔平均分给3个同学每个同学得多</tspan><tspan x="396" y="2798.8">少支?</tspan></text></g>
<g id="b5-9e"><rect class="rp" x="241" y="2750.6" width="138.5" height="83"/><text class="tp"><tspan x="244.5" y="2759.9">教师明确：通过仔细观察这几道题中都有"平</tspan><tspan x="244.5" y="2768.5">均分"，就是使每一份都都是一样多，通过刚</tspan><tspan x="244.5" y="2777.1">才的分，我们可以看出，平均分后，每份都能</tspan><tspan x="244.5" y="2785.7">得到一个整数，可以用一个整数来表示，但是</tspan><tspan x="244.5" y="2794.3">在我们日常生活中是不是每一次平均分后都得</tspan><tspan x="244.5" y="2802.9">到一个整数，这儿有一个，我想把它分给两个</tspan><tspan x="244.5" y="2811.5">同学，那么怎么分才使两个同学觉得呢?每份</tspan><tspan x="244.5" y="2820.1">得多少?只有分得同样多，才能使每个同学平</tspan><tspan x="244.5" y="2828.7">均分。</tspan></text></g>
<g id="b5-10a"><rect class="rp" x="488" y="2848.3" width="49.5" height="14.9"/><text class="tp" x="491.5" y="2858.1">1，谈话导入。</text></g>
<g id="b5-10b"><rect class="rp" x="399" y="3242.8" width="138.5" height="31.9"/><text class="tp"><tspan x="402.5" y="3252.4">【出示图片"例1"】这半个饼可以用一个整数</tspan><tspan x="402.5" y="3261">来表示吗?那么该用什么数来表示呢?这就是我</tspan><tspan x="402.5" y="3269.6">们今天要学习的新知识，</tspan></text></g>
<g id="b5-k1"><rect class="rp" x="317.5" y="2877.9" width="68.5" height="14.9"/><text class="tp" x="321" y="2887.8">2，教学例1：认识。</text></g>
<g id="b5-k2"><rect class="rp" x="332.5" y="2969.7" width="53.5" height="14.9"/><text class="tp" x="336" y="2979.6">(1)认识一个饼的</text></g>
<g id="b5-k3"><rect class="rp" x="345.5" y="3118.4" width="40.5" height="14.4"/><text class="tp" x="349" y="3128">(2)指导读写</text></g>
<g id="b5-k4"><rect class="rp" x="345.5" y="3168.5" width="40.5" height="14.9"/><text class="tp" x="349" y="3178.4">(3)反馈练习</text></g>
<g id="b5-k5"><rect class="rp" x="309" y="3214.4" width="77" height="14.6"/><text class="tp" x="312.5" y="3224.1">(1)【出示图片"例2-1"】</text></g>
<g id="b5-k6"><rect class="rp" x="247.5" y="3260.4" width="138.5" height="23.6"/><text class="tp"><tspan x="251" y="3270.1">(2)让学生拿出一张长方形纸，折出它的 ，并</tspan><tspan x="251" y="3278.7">给它涂上颜色，涂完后小组讨论判断对错。</tspan></text></g>
<g id="b5-k7"><rect class="rp" x="247.5" y="3323.5" width="138.5" height="23.8"/><text class="tp"><tspan x="251" y="3333.3">(3)拿出准备好的彩带，学生讨论："怎样才能</tspan><tspan x="251" y="3341.9">剪下它的 "</tspan></text></g>
<g id="b5-k8"><rect class="rp" x="247.5" y="3378.2" width="138.5" height="23.8"/><text class="tp"><tspan x="251" y="3388">(2)同桌讨论，教师各组巡回检查，了解学生</tspan><tspan x="251" y="3396.6">自学情况。</tspan></text></g>
<g id="b5-k9"><rect class="rp" x="262.5" y="3416.5" width="123.5" height="15.2"/><text class="tp" x="266" y="3426.5">(3)集体反馈：四分之一、五分之一怎样?</text></g>
<g id="b5-k10"><rect class="rp" x="352" y="3460.3" width="34" height="14.8"/><text class="tp" x="355.5" y="3470.1">(4)判断。</text></g>
<g id="b5-k11"><rect class="rp" x="247.5" y="3504.6" width="138.5" height="40.3"/><text class="tp"><tspan x="251" y="3514.1">(1)教师：请同学们拿出长方形纸、直尺和彩</tspan><tspan x="251" y="3522.7">笔，在长方形纸上画出1分米长的一条线段，</tspan><tspan x="251" y="3531.3">把它平均分成10份，标出每份是它的几分之</tspan><tspan x="251" y="3539.9">几?怎么写?</tspan></text></g>
<g id="b5-k12"><rect class="rp" x="319" y="3559.8" width="67" height="14.8"/><text class="tp" x="322.5" y="3569.6">(2)小组讨论，看图。</text></g>
<g id="b5-k13"><rect class="rp" x="247.5" y="3620.3" width="138.5" height="23.9"/><text class="tp"><tspan x="251" y="3630.2">(3)群体讨论。投影展示学生的答案，师贴出</tspan><tspan x="251" y="3638.8">放大图。</tspan></text></g>
<g id="b5-m1"><rect class="rp" x="256.5" y="2907.2" width="62.5" height="14.9"/><text class="tp" x="260" y="2917">①出示图片"例1"。</text></g>
<g id="b5-m2"><rect class="rp" x="180" y="2936.5" width="139" height="23.8"/><text class="tp"><tspan x="183.5" y="2946.3">②教师说明：把一个分成两份，其中一份是多</tspan><tspan x="183.5" y="2954.9">少用分数表示就是这块饼的二分之一</tspan></text></g>
<g id="b5-m2a"><rect class="rp" x="28.5" y="2936.5" width="139" height="23.8"/><text class="tp"><tspan x="32" y="2946.3">(板书：)写的时候先写"一"，再写"2，"最后</tspan><tspan x="32" y="2954.9">写"1"。</tspan></text></g>
<g id="b5-m3"><rect class="rp" x="180" y="3026.9" width="139" height="23.5"/><text class="tp"><tspan x="183.5" y="3036.6">③学生看图独立想 表示的意义。小组讨论交</tspan><tspan x="183.5" y="3045.2">流。</tspan></text></g>
<g id="b5-m3a"><rect class="rp" x="28.5" y="2974.7" width="139" height="23.2"/><text class="tp"><tspan x="32" y="2984.2">学生：表示把一个饼平均分成两份，取其中</tspan><tspan x="32" y="2992.8">的一份。</tspan></text></g>
<g id="b5-m3b"><rect class="rp" x="45" y="3012.8" width="122.5" height="14.4"/><text class="tp" x="48.5" y="3022.4">教师提问："一"、"2"、"1"各表示什么?</text></g>
<g id="b5-m3c"><rect class="rp" x="28.5" y="3042.1" width="139" height="23.2"/><text class="tp"><tspan x="32" y="3051.6">学生："一"表示平均分，叫做分数线，"2"表</tspan><tspan x="32" y="3060.2">示平均分的份数，"1"表示取的份数。</tspan></text></g>
<g id="b5-m3d"><rect class="rp" x="28.5" y="3079.7" width="139" height="23.5"/><text class="tp"><tspan x="32" y="3089.4">师强调：写的时候，注意这条线要写得平直，</tspan><tspan x="32" y="3098">横线上、下的数要对齐。</tspan></text></g>
<g id="b5-n1"><rect class="rp" x="193.5" y="3146.9" width="138.5" height="23.5"/><text class="tp"><tspan x="197" y="3156.6">①引导学生拿出一张长方形纸，试折出它的</tspan><tspan x="197" y="3165.2">，涂上颜色，并在涂色的一半上写 。</tspan></text></g>
<g id="b5-n1a"><rect class="rp" x="41.5" y="3146.9" width="139" height="23.5"/><text class="tp"><tspan x="45" y="3156.6">教师提问：折法不同，折出的形状也不同，为</tspan><tspan x="45" y="3165.2">什么每一份都是这张纸的 ?</tspan></text></g>
<g id="b5-n2"><rect class="rp" x="195" y="3185.1" width="137" height="14.9"/><text class="tp" x="198.5" y="3194.9">②判断图中的阴影部分能否用 表示。为什么?</text></g>
<g id="b5-n2a"><rect class="rp" x="122" y="3185.1" width="60" height="14.9"/><text class="tp" x="125.5" y="3194.9">3。教学例2：认识</text></g>
<g id="b5-n3"><rect class="rp" x="161" y="3214.4" width="135" height="14.6"/><text class="tp" x="164.5" y="3224.1">教师提问：通过看这幅图，你都知道了什么?</text></g>
<g id="b5-n4"><rect class="rp" x="95.5" y="3243.9" width="139" height="23.5"/><text class="tp"><tspan x="99" y="3253.6">巩固意义：把一个圆平均分成了三份，阴影部</tspan><tspan x="99" y="3262.2">分表示这个圆的三分之一。</tspan></text></g>
<g id="b5-n5"><rect class="rp" x="135.5" y="3281.7" width="99" height="15.2"/><text class="tp" x="139" y="3291.7">(教师板书： ，读作：三分之一)</text></g>
<g id="b5-n6"><rect class="rp" x="170.5" y="3310.9" width="64" height="15.1"/><text class="tp" x="174" y="3320.8">4。教学例3、例4。</text></g>
<g id="b5-n7"><rect class="rp" x="95.5" y="3340.6" width="139" height="23.5"/><text class="tp"><tspan x="99" y="3350.3">(l)引导学生每人拿出两张长方形的纸，按例3</tspan><tspan x="99" y="3358.9">、例4的要求做，做完后填空。</tspan></text></g>
<g id="b5-n8"><rect class="rp" x="210.5" y="3416.5" width="38.5" height="15.2"/><text class="tp" x="214" y="3426.5">教师贴图：</text></g>
<g id="b5-n9"><rect class="rp" x="215.5" y="3445.7" width="123.5" height="14.9"/><text class="tp" x="219" y="3455.5">下面哪个图的涂色部分是 ，在()里划√。</text></g>
<g id="b5-n10"><rect class="rp" x="309.5" y="3475.1" width="29.5" height="14.9"/><text class="tp" x="313" y="3484.9">5。教学</text></g>
<g id="b5-n11"><rect class="rp" x="110.5" y="3588.9" width="124" height="15.1"/><text class="tp" x="114" y="3598.8">教师提问：数一数，这条线段上有几个 ?</text></g>
<g id="b5-n12"><rect class="rp" x="95.5" y="3618.4" width="139" height="23.5"/><text class="tp"><tspan x="99" y="3628.1">教师明确：把一条一分米长的线段，平均分成</tspan><tspan x="99" y="3636.7">十份，每份都是它的 ，它有10个这样的 。</tspan></text></g>
<g id="b5-n13"><rect class="rp" x="95.5" y="3656.1" width="139" height="23.7"/><text class="tp"><tspan x="99" y="3665.9">6。教师提问：今天我们学习的分数有什么特</tspan><tspan x="99" y="3674.5">点?(板书：几分之一)</tspan></text></g>
<g id="b5-q1"><rect class="rp" x="399" y="3694" width="138.5" height="23.7"/><text class="tp"><tspan x="402.5" y="3703.8">1。填空：把一张正方形的纸，平均分成四份</tspan><tspan x="402.5" y="3712.4">，每份是它的( )分之一写作；</tspan></text></g>
<g id="b5-q2"><rect class="rp" x="399" y="3732" width="138.5" height="23.7"/><text class="tp"><tspan x="402.5" y="3741.8">把一条1米长的彩带平均分成15份，每份是它</tspan><tspan x="402.5" y="3750.4">的 。</tspan></text></g>
<g id="b5-q3"><rect class="rp" x="501.5" y="3810" width="36" height="15.1"/><text class="tp" x="505" y="3819.9">2。判断：</text></g>
<g id="b5-q3a"><rect class="rp" x="474" y="3770" width="14.5" height="15.1"/><text class="tp" x="476.5" y="3779.9">(1)</text></g>
<g id="b5-q3b"><rect class="rp" x="369" y="3799.4" width="119.5" height="15.2"/><text class="tp" x="372.5" y="3809.4">(2)把一块蛋糕切成7块，每块是它的 ( )</text></g>
<g id="b5-q3c"><rect class="rp" x="355.5" y="3849.7" width="133" height="15.1"/><text class="tp" x="359" y="3859.6">(3)把一根绳子平均分成3段，每段是它的 ( )</text></g>
<g id="b5-q3d"><rect class="rp" x="204" y="3828.3" width="138.5" height="24"/><text class="tp"><tspan x="207.5" y="3838.2">3。一米长的绳子平均分成10份，每份是它的</tspan><tspan x="207.5" y="3846.8">( )，每份长( )米。</tspan></text></g>
<g id="b5-q3e"><rect class="rp" x="266.5" y="3866.5" width="76" height="15.2"/><text class="tp" x="270" y="3876.5">4。读出写出这些分数。</text></g>
<g id="b5-r1"><rect class="rp" x="399" y="3896.2" width="132" height="15.2"/><text class="tp" x="402.5" y="3906.2">今天这节课我们学习了什么?你有什么感受?</text></g>
<g id="b5-s1"><rect class="rp" x="392.5" y="3925.7" width="138.5" height="23.7"/><text class="tp"><tspan x="396" y="3935.5">1。小军跑步，他跑了全长的 ，请你在线段上</tspan><tspan x="396" y="3944.1">表示出来。</tspan></text></g>
<g id="b5-s2"><rect class="rp" x="461" y="3963.6" width="70" height="14.9"/><text class="tp" x="464.5" y="3973.4">2。读出下面各分数。</text></g>
<g id="b5-s3"><rect class="rp" x="461" y="3993" width="70" height="14.9"/><text class="tp" x="464.5" y="4002.8">3。写出下面各分数。</text></g>
<g id="b5-s4"><rect class="rp" x="435" y="4022.5" width="96" height="14.8"/><text class="tp" x="438.5" y="4032.3">六分之一 九分之一 十二分之一</text></g>
<g id="b5-s5"><rect class="rp" x="435" y="4051.9" width="96" height="14.9"/><text class="tp" x="438.5" y="4061.7">十分之一 七分之一 二十分之一</text></g>
<g id="b2"><rect x="972.7" y="1363.9" width="163.2" height="30.7" rx="15.35" fill="#fbc936"/><text class="big" fill="#3b2c00"><tspan x="988.5" y="1376.3">一年级数学下册练习九教案最新模</tspan><tspan x="988.5" y="1387.5">板2</tspan></text></g>
<g id="b2-1"><rect class="ry" x="1149.3" y="1043.1" width="32.4" height="13.9"/><text class="ty" x="1152.3" y="1052.4">教材分析</text></g>
<g id="b2-2"><rect class="ry" x="1149.3" y="1072.5" width="138.4" height="48.4"/><text class="ty"><tspan x="1152.6" y="1081.7">这节课的内容是学生在对长方形和正方形已经</tspan><tspan x="1152.6" y="1090.3">有了初步认识的基础上，进一步对长方形和正</tspan><tspan x="1152.6" y="1098.9">方形特征的认识，经过这节课的教学也为今后</tspan><tspan x="1152.6" y="1107.5">进一步学习长方形、正方形的其他特点以及研</tspan><tspan x="1152.6" y="1116.1">究其他平面图形的特点打基础。</tspan></text></g>
<g id="b2-3"><rect class="ry" x="1149.3" y="1135.2" width="138.4" height="108.5"/><text class="ty"><tspan x="1152.6" y="1144.4">《数学课程标准》提倡以"问题情境—建立模</tspan><tspan x="1152.6" y="1153">型—解释、应用与拓展、反思"的基本模式展</tspan><tspan x="1152.6" y="1161.6">现教学内容，让学生经历"数学化"和再创造的</tspan><tspan x="1152.6" y="1170.2">过程。因此，教材一开始就从生活中的实例引</tspan><tspan x="1152.6" y="1178.8">入长方形和正方形的认识。然后，教材创设两</tspan><tspan x="1152.6" y="1187.4">个情境，引导学生通过动手"数一数"、"量一</tspan><tspan x="1152.6" y="1196">量"、"折一折"、"比一比"，认识长方形、正</tspan><tspan x="1152.6" y="1204.6">方形边、角的特征。接着，安排课堂活动巩固</tspan><tspan x="1152.6" y="1213.2">学生对特征的认识，进一步建构对长方形与正</tspan><tspan x="1152.6" y="1221.8">方形的空间观念。最后，教材安排了一些具有</tspan><tspan x="1152.6" y="1230.4">可操作性、开放性、挑战性的习题，让学生学</tspan><tspan x="1152.6" y="1239">会运用所学知识解决问题。</tspan></text></g>
<g id="b2-4"><rect class="ry" x="1149.3" y="1259.2" width="32.4" height="13.9"/><text class="ty" x="1152.3" y="1268.5">学情分析</text></g>
<g id="b2-5"><rect class="ry" x="1149.3" y="1287.8" width="138.4" height="177"/><text class="ty"><tspan x="1152.6" y="1296.8">《数学课程标准》指出：重视学生对主体学习</tspan><tspan x="1152.6" y="1305.4">过程的体验，重视学生独立思考、协作学习的</tspan><tspan x="1152.6" y="1314">学习方式，重视培养学生的自主性、个性化、</tspan><tspan x="1152.6" y="1322.6">观察力、探索能力、应用数学知识解决实际问</tspan><tspan x="1152.6" y="1331.2">题的能力。 二年级学生已初步具备动手探索</tspan><tspan x="1152.6" y="1339.8">的能力，可以借助三角尺上的直角来判断直角</tspan><tspan x="1152.6" y="1348.4">、锐角、钝角，也可以借助尺子来度量图形各</tspan><tspan x="1152.6" y="1357">条边的长度，这些能力都为学生探究长方形和</tspan><tspan x="1152.6" y="1365.6">正方形的特征提供了良好的基础。另外，二年</tspan><tspan x="1152.6" y="1374.2">级学生直观形象思维占优势，喜好动手操作，</tspan><tspan x="1152.6" y="1382.8">对于色彩鲜艳、动感强烈的事物易感兴趣。本</tspan><tspan x="1152.6" y="1391.4">节课设计了拼一拼、量一量、折一折、算一算</tspan><tspan x="1152.6" y="1400">、说一说等活动，其中既有学生独立学习的过</tspan><tspan x="1152.6" y="1408.6">程、又有协作学习的方式，使学生手脑并用，</tspan><tspan x="1152.6" y="1417.2">既体会到生活中的数学知识、又体验出数学学</tspan><tspan x="1152.6" y="1425.8">习的趣味性。所以本节课我设计学法为根据学</tspan><tspan x="1152.6" y="1434.4">生的年龄心理特点及生活经验，鼓励学生多观</tspan><tspan x="1152.6" y="1443">察、多讨论、多探究、多协作、多操作，采用</tspan><tspan x="1152.6" y="1451.6">了观察法、讨论法、探索协作学习法和操作法</tspan><tspan x="1152.6" y="1460.2">，使学生成为学习的主人。</tspan></text></g>
<g id="b2-6"><rect class="ry" x="1149.3" y="1480.4" width="32.4" height="13.9"/><text class="ty" x="1152.3" y="1489.7">教学目标</text></g>
<g id="b2-7"><rect class="ry" x="1149.3" y="1509" width="138.4" height="48.4"/><text class="ty"><tspan x="1152.6" y="1518.2">1、知识与技能：学生通过操作、比较、归纳</tspan><tspan x="1152.6" y="1526.8">，能够用自己的语言描述长方形、正方形的特</tspan><tspan x="1152.6" y="1535.4">征。能够在方格纸上画出长方形和正方形。在</tspan><tspan x="1152.6" y="1544">观察图形、总结归纳图形特征的过程中形成自</tspan><tspan x="1152.6" y="1552.6">主学习能力。</tspan></text></g>
<g id="b2-8"><rect class="ry" x="1149.3" y="1572.9" width="138.4" height="22.2"/><text class="ty"><tspan x="1152.6" y="1581.9">2、过程与方法：通过推拉等活动，使学生获</tspan><tspan x="1152.6" y="1590.5">得研究图形的体验、过程与方法。</tspan></text></g>
<g id="b2-9"><rect class="ry" x="1149.3" y="1620.4" width="138.4" height="23.1"/><text class="ty"><tspan x="1152.6" y="1629.9">3、情感态度与价值观：激发学生的学习兴趣</tspan><tspan x="1152.6" y="1638.5">，让他们能积极主动地参与到教学活动中。</tspan></text></g>
<g id="b2-9a"><rect class="ry" x="1301" y="1609.8" width="52" height="15.2"/><text class="ty" x="1304" y="1619.8">教学重点和难点</text></g>
<g id="b2-9b"><rect class="ry" x="1301" y="1639.3" width="39.2" height="14.7"/><text class="ty" x="1304" y="1649">教学重点:</text></g>
<g id="b2-10"><rect class="ry" x="1149.3" y="1669.1" width="102.6" height="14.7"/><text class="ty" x="1152.6" y="1678.8">1、认识长方形和正方形的特征。</text></g>
<g id="b2-11"><rect class="ry" x="1149.3" y="1698.6" width="138.4" height="22.7"/><text class="ty"><tspan x="1152.6" y="1707.9">2、通过"推一推""拉一拉"等活动，了解长方</tspan><tspan x="1152.6" y="1716.5">形、正方形之间的联系。</tspan></text></g>
<g id="b2-11a"><rect class="ry" x="1301" y="1702.8" width="39.2" height="14.7"/><text class="ty" x="1304" y="1712.5">教学难点:</text></g>
<g id="b2-11b"><rect class="ry" x="1353" y="1698.6" width="138.5" height="22.7"/><text class="ty"><tspan x="1356.3" y="1707.9">通过"推一推""拉一拉"等活动，了解长方形、</tspan><tspan x="1356.3" y="1716.5">正方形之间的联系。</tspan></text></g>
<g id="b4"><rect x="972.7" y="2106" width="163.2" height="30.7" rx="15.35" fill="#8dc63f"/><text class="big" fill="#1e2a0c"><tspan x="988.5" y="2118.4">一年级数学下册练习九教案最新模</tspan><tspan x="988.5" y="2129.6">板4</tspan></text></g>
<g id="b4-1"><rect class="rg" x="1149.3" y="1736.8" width="105" height="14.3"/><text class="tg" x="1152.6" y="1746.4">教学内容：求两个数的最大公约数</text></g>
<g id="b4-2"><rect class="rg" x="1149.3" y="1766.3" width="33.4" height="14.3"/><text class="tg" x="1152.3" y="1775.9">教学目标:</text></g>
<g id="b4-3"><rect class="rg" x="1149.3" y="1795.3" width="138.4" height="22.7"/><text class="tg"><tspan x="1152.6" y="1804.6">使学生理解求两个数的最大公约数的算理，学</tspan><tspan x="1152.6" y="1813.2">会求两个数的最大公约数的方法。</tspan></text></g>
<g id="b4-4"><rect class="rg" x="1149.3" y="1901.7" width="38.2" height="14.7"/><text class="tg" x="1152.6" y="1911.4">教学过程:</text></g>
<g id="b4-4a"><rect class="rg" x="1201.8" y="1856.7" width="32.4" height="14.7"/><text class="tg" x="1204.8" y="1866.4">一、复习</text></g>
<g id="b4-4b"><rect class="rg" x="1247.1" y="1833.5" width="138.4" height="23.2"/><text class="tg"><tspan x="1250.4" y="1843">1、什么叫公约数，最大公约数和互质数，举</tspan><tspan x="1250.4" y="1851.6">出一组互质数</tspan></text></g>
<g id="b4-4c"><rect class="rg" x="1247.1" y="1871" width="138.4" height="23.1"/><text class="tg"><tspan x="1250.4" y="1880.5">2、写出36的约数，60的约数，36和60的公</tspan><tspan x="1250.4" y="1889.1">约数，36和60的最大公约数</tspan></text></g>
<g id="b4-4d"><rect class="rg" x="1201.8" y="1947.5" width="45.3" height="14.3"/><text class="tg" x="1204.8" y="1957.1">二、教学新课</text></g>
<g id="b4-4e"><rect class="rg" x="1260" y="1909.7" width="138.4" height="39.1"/><text class="tg"><tspan x="1263.3" y="1918.6">1、提出问题：求两个数的最大公约数。用上</tspan><tspan x="1263.3" y="1927.2">面的方法求两个数的最大公约数，很不方便，</tspan><tspan x="1263.3" y="1935.8">有没有更简便的方法呢，这就是我们今天要学</tspan><tspan x="1263.3" y="1944.4">的内容;</tspan></text></g>
<g id="b4-4f"><rect class="rg" x="1260" y="1972.7" width="41" height="14.7"/><text class="tg" x="1263" y="1982.4">2、教学例3</text></g>
<g id="b4-4g"><rect class="rg" x="1314" y="1963.9" width="138.4" height="31.5"/><text class="tg"><tspan x="1317.3" y="1973.3">我们可以这样想：把36和60分别分解质因数</tspan><tspan x="1317.3" y="1981.9">，把他们的最大公约数12也分解质因数，观</tspan><tspan x="1317.3" y="1990.5">察以下，他们有什么联系?</tspan></text></g>
<g id="b4-5"><rect class="rg" x="1148.6" y="2220.4" width="66.6" height="14.7"/><text class="tg" x="1151.9" y="2230.1">观察、比较、议论:</text></g>
<g id="b4-5a"><rect class="rg" x="1228" y="2010.6" width="138.4" height="23.1"/><text class="tg"><tspan x="1231.3" y="2020.1">(1)36和60的公有约数是几，全部公有质因数</tspan><tspan x="1231.3" y="2028.7">的连乘的积是多少?</tspan></text></g>
<g id="b4-5b"><rect class="rg" x="1228" y="2048.4" width="138.4" height="23.1"/><text class="tg"><tspan x="1231.3" y="2057.9">(2)36和60的公有质因数与他们最大公约数12</tspan><tspan x="1231.3" y="2066.5">的质因数相比，有什么发现?</tspan></text></g>
<g id="b4-5c"><rect class="rg" x="1228" y="2086.7" width="87.4" height="14.3"/><text class="tg" x="1231.3" y="2096.3">(3)用短除法求最大公约数。</text></g>
<g id="b4-5d"><rect class="rg" x="1228" y="2145.5" width="100.3" height="14.4"/><text class="tg" x="1231.3" y="2155.1">(4)引导学生观察，比较，议论。</text></g>
<g id="b4-5d1"><rect class="rg" x="1341.6" y="2116.1" width="43" height="14.7"/><text class="tg" x="1344.9" y="2125.9">3、巩固练习</text></g>
<g id="b4-5d2"><rect class="rg" x="1341.6" y="2145.5" width="115.5" height="14.4"/><text class="tg" x="1344.9" y="2155.1">4、试一试求下面两题的最大公约数。</text></g>
<g id="b4-5d3"><rect class="rg" x="1341.6" y="2175" width="40.1" height="14.3"/><text class="tg" x="1344.9" y="2184.6">5、教学例4</text></g>
<g id="b4-5e"><rect class="rg" x="1228" y="2204" width="100.3" height="14.3"/><text class="tg" x="1231.3" y="2213.6">(1)求出下面各组数的最大公约数</text></g>
<g id="b4-5f"><rect class="rg" x="1227.5" y="2254.7" width="81.1" height="14.8"/><text class="tg" x="1230.8" y="2264.5">(2)引导学生探求观察思考</text></g>
<g id="b4-5f1"><rect class="rg" x="1321.4" y="2233.4" width="138.9" height="23.1"/><text class="tg"><tspan x="1324.7" y="2242.9">观察上面三组数和他们各自的最大公约数，发</tspan><tspan x="1324.7" y="2251.5">现什?</tspan></text></g>
<g id="b4-5f2"><rect class="rg" x="1321.4" y="2270.8" width="40.7" height="15.3"/><text class="tg" x="1324.7" y="2280.9">6、教学例5</text></g>
<g id="b4-5g"><rect class="rg" x="1227.5" y="2300.5" width="101.1" height="15.2"/><text class="tg" x="1230.8" y="2310.5">(1)求出下面各组数的最大公约数</text></g>
<g id="b4-5h"><rect class="rg" x="1227.5" y="2329.7" width="139.3" height="23.5"/><text class="tg"><tspan x="1230.8" y="2339.4">(2)引导学生观察、探索、发现这些数的最大</tspan><tspan x="1230.8" y="2348">公约数</tspan></text></g>
<g id="b4-5i"><rect class="rg" x="1227.5" y="2367.6" width="54.6" height="15.2"/><text class="tg" x="1230.8" y="2377.6">(3)教师学生共同</text></g>
<g id="b4-5j"><rect class="rg" x="1227.5" y="2397.2" width="34.6" height="15.2"/><text class="tg" x="1230.8" y="2407.2">(4)练一练</text></g>
<g id="b4-5k"><rect class="rg" x="1227.5" y="2426.4" width="94.6" height="15.2"/><text class="tg" x="1230.8" y="2436.4">(5)求下面各组数的最大公约数</text></g>
<g id="b4-5k1"><rect class="rg" x="1334.8" y="2426.4" width="45.9" height="15.2"/><text class="tg" x="1338.1" y="2436.4">三、布置作业</text></g>
<g id="b4-6"><rect class="rg" x="1148.6" y="2491.7" width="106.6" height="15.3"/><text class="tg" x="1151.9" y="2501.8">反思：我认为这几点我做的不好:</text></g>
<g id="b4-6a"><rect class="rg" x="1267.5" y="2456" width="138.6" height="40.1"/><text class="tg"><tspan x="1270.8" y="2465.4">1、没有让学生真正懂得为什么两个数全部共</tspan><tspan x="1270.8" y="2474">有质因数连乘的积就是这两个数的最大公约数</tspan><tspan x="1270.8" y="2482.6">。所以在下面的练习中学生知识照搬照抄。缺</tspan><tspan x="1270.8" y="2491.2">乏灵活性。</tspan></text></g>
<g id="b4-6b"><rect class="rg" x="1267.5" y="2511.3" width="138.6" height="23.1"/><text class="tg"><tspan x="1270.8" y="2520.8">2、对于有特点的两组数：互质数和约数关系</tspan><tspan x="1270.8" y="2529.4">时的教学缺乏举例，与学生的自我思考。</tspan></text></g>
<g id="b6"><rect x="973" y="2679" width="163.6" height="31.5" rx="15.75" fill="#1e87c9"/><text class="big" fill="#ffffff"><tspan x="988.6" y="2691.5">一年级数学下册练习九教案最新相</tspan><tspan x="988.6" y="2702.7">关文章:</tspan></text></g>
<g id="b6-1"><rect class="rb" x="1148.6" y="2549.2" width="115.3" height="14.8"/><text class="tb" x="1151.9" y="2559">★ 经典一年级数学9加几教案5篇最新</text></g>
<g id="b6-2"><rect class="rb" x="1148.6" y="2578.4" width="102.6" height="15.3"/><text class="tb" x="1151.9" y="2588.5">★ 一年级数学下册j教案最新文案</text></g>
<g id="b6-3"><rect class="rb" x="1148.6" y="2608" width="136.4" height="14.9"/><text class="tb" x="1151.9" y="2617.9">★ 2021小学一年级数学下册典型题最新教案</text></g>
<g id="b6-4"><rect class="rb" x="1148.6" y="2637.3" width="120.4" height="14.8"/><text class="tb" x="1151.9" y="2647.1">★ 人教版一年级数学下册教案最新模板</text></g>
<g id="b6-5"><rect class="rb" x="1148.6" y="2666.9" width="115.7" height="14.8"/><text class="tb" x="1151.9" y="2676.7">★ 2021最新小学一年级数学下册教案</text></g>
<g id="b6-6"><rect class="rb" x="1148.6" y="2696.1" width="102.9" height="14.8"/><text class="tb" x="1151.9" y="2705.9">★ 最新2021一年级数学下册教案</text></g>
<g id="b6-7"><rect class="rb" x="1148.6" y="2725.7" width="116" height="14.8"/><text class="tb" x="1151.9" y="2735.5">★ 一年级下册数学全册教案2021最新</text></g>
<g id="b6-8"><rect class="rb" x="1148.6" y="2754.5" width="139.7" height="23.5"/><text class="tb"><tspan x="1151.9" y="2764.2">★ 人教版一年级下册数学教案全册教案2021</tspan><tspan x="1151.9" y="2772.8">最新</tspan></text></g>
<g id="b6-9"><rect class="rb" x="1148.6" y="2792.8" width="122.9" height="14.8"/><text class="tb" x="1151.9" y="2802.6">★ 一年级数学人教版下册教案2021最新</text></g>
<g id="b6-10"><rect class="rb" x="1148.6" y="2822" width="139.7" height="23.5"/><text class="tb"><tspan x="1151.9" y="2831.7">★ 最新人教版新课标小学一年级数学下册202</tspan><tspan x="1151.9" y="2840.3">1教案</tspan></text></g>
</svg>
